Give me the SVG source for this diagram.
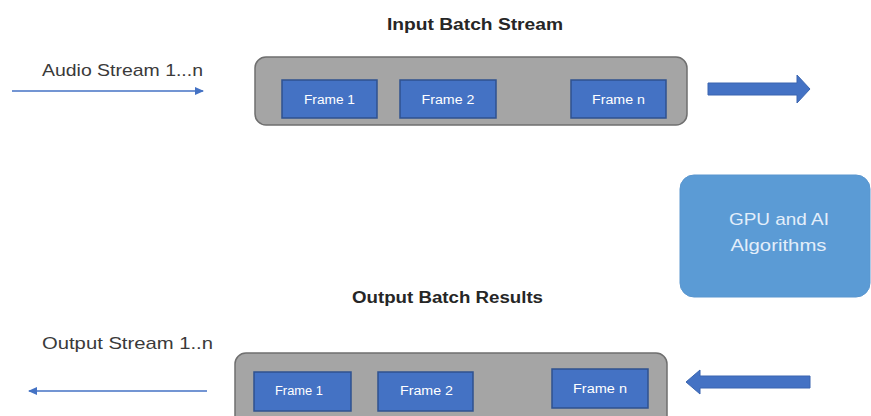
<svg xmlns="http://www.w3.org/2000/svg" width="871" height="416" viewBox="0 0 871 416">
<defs>
<style>
.title{font-family:"Liberation Sans",Arial,sans-serif;font-weight:bold;font-size:16px;fill:#262626}
.lbl{font-family:"Liberation Sans",Arial,sans-serif;font-size:17px;fill:#3a3a3a}
.frame rect{fill:#4472c4;stroke:#2f528f;stroke-width:1.5}
.frame text{font-family:"Liberation Sans",Arial,sans-serif;font-size:12px;fill:#ffffff;text-anchor:middle}
.batch{fill:#a5a5a5;stroke:#6f6f6f;stroke-width:1.5}
.line{stroke:#4472c4;stroke-width:1.6;fill:none}
.block{fill:#4472c4;stroke:#3a65b0;stroke-width:1}
.gpu text{font-family:"Liberation Sans",Arial,sans-serif;font-size:17px;fill:#e3eefa;text-anchor:middle}
</style>
<marker id="ah" markerWidth="10" markerHeight="10" refX="8" refY="5" orient="auto" markerUnits="userSpaceOnUse">
<path d="M0,1 L9,5 L0,9 Z" fill="#4472c4"/>
</marker>
</defs>
<rect width="871" height="416" fill="#ffffff"/>

<g id="input-title"><text class="title" x="387" y="30" textLength="176" lengthAdjust="spacingAndGlyphs">Input Batch Stream</text></g>
<g id="audio-label"><text class="lbl" x="42" y="76" textLength="161" lengthAdjust="spacingAndGlyphs">Audio Stream 1...n</text></g>

<g id="input-batch">
<rect class="batch" x="255" y="57" width="432" height="68" rx="11"/>
<g id="in-frame1" class="frame"><rect x="282" y="80" width="95" height="38"/><text x="329.5" y="104" textLength="51" lengthAdjust="spacingAndGlyphs">Frame 1</text></g>
<g id="in-frame2" class="frame"><rect x="400" y="80" width="96" height="38"/><text x="448" y="104" textLength="53" lengthAdjust="spacingAndGlyphs">Frame 2</text></g>
<g id="in-framen" class="frame"><rect x="571" y="80" width="95" height="38"/><text x="618.5" y="104" textLength="53" lengthAdjust="spacingAndGlyphs">Frame n</text></g>
</g>

<g id="gpu" class="gpu">
<rect x="680" y="175" width="190" height="122" rx="14" fill="#5b9bd5" stroke="#5a96cf" stroke-width="1"/>
<text x="779" y="225" textLength="100" lengthAdjust="spacingAndGlyphs">GPU and AI</text>
<text x="778.5" y="251" textLength="96" lengthAdjust="spacingAndGlyphs">Algorithms</text>
</g>

<g id="output-title"><text class="title" x="352" y="303" textLength="191" lengthAdjust="spacingAndGlyphs">Output Batch Results</text></g>
<g id="output-label"><text class="lbl" x="42" y="349" textLength="171" lengthAdjust="spacingAndGlyphs">Output Stream 1..n</text></g>

<g id="output-batch">
<rect class="batch" x="235" y="353" width="432" height="75" rx="11"/>
<g id="out-frame1" class="frame"><rect x="254" y="372" width="97" height="39"/><text x="299" y="395" textLength="48" lengthAdjust="spacingAndGlyphs">Frame 1</text></g>
<g id="out-frame2" class="frame"><rect x="378" y="372" width="95" height="39"/><text x="426.5" y="395" textLength="53" lengthAdjust="spacingAndGlyphs">Frame 2</text></g>
<g id="out-framen" class="frame"><rect x="552" y="369" width="96" height="39"/><text x="600" y="393" textLength="54" lengthAdjust="spacingAndGlyphs">Frame n</text></g>
</g>

<g id="connectors">
<line class="line" x1="12" y1="91" x2="203" y2="91" marker-end="url(#ah)"/>
<line class="line" x1="207" y1="391" x2="29" y2="391" marker-end="url(#ah)"/>
<path class="block" d="M708,83 L797,83 L797,75 L810,89 L797,103 L797,95 L708,95 Z"/>
<path class="block" d="M810,376 L700,376 L700,370 L686,382 L700,394 L700,388 L810,388 Z"/>
</g>
</svg>
